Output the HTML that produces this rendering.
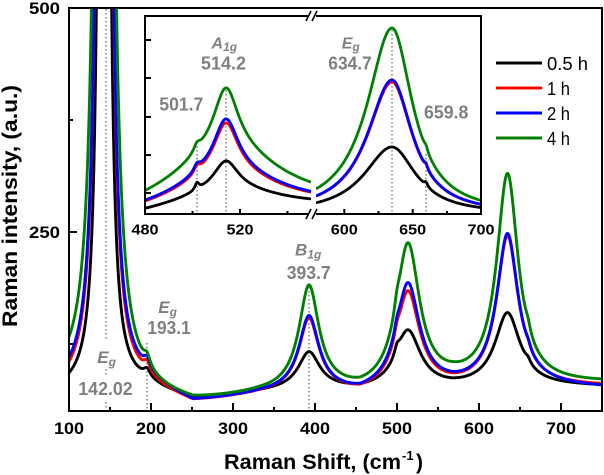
<!DOCTYPE html>
<html><head><meta charset="utf-8">
<style>
html,body{margin:0;padding:0;background:#fff;}
svg{display:block;}
text{font-family:"Liberation Sans",Arial,sans-serif;}
</style></head><body>
<svg id="s" width="604" height="475" viewBox="0 0 604 475" xmlns="http://www.w3.org/2000/svg">
<defs>
<clipPath id="cm"><rect x="70" y="9" width="531" height="401"/></clipPath>
<clipPath id="cl"><rect x="146" y="17" width="165" height="196"/></clipPath>
<clipPath id="cr"><rect x="316" y="17" width="164" height="196"/></clipPath>
</defs>
<rect x="0" y="0" width="604" height="475" fill="#fff"/>

<g stroke="#808080" stroke-width="1.5" stroke-dasharray="1.5 2.5" fill="none">
 <line x1="106" y1="9" x2="106" y2="340"/>
 <line x1="106" y1="369" x2="106" y2="377"/>
 <line x1="106" y1="402" x2="106" y2="410"/>
 <line x1="147" y1="343" x2="147" y2="410"/>
 <line x1="309" y1="287" x2="309" y2="410"/>
</g>

<g id="main" clip-path="url(#cm)" fill="none" stroke-width="2.9" stroke-linejoin="round" stroke-linecap="round"></g>

<rect x="69" y="8" width="533" height="403" fill="none" stroke="#000" stroke-width="2"/>
<g stroke="#000" stroke-width="2">
 <line x1="151" y1="411" x2="151" y2="403"/>
 <line x1="233" y1="411" x2="233" y2="403"/>
 <line x1="315" y1="411" x2="315" y2="403"/>
 <line x1="397" y1="411" x2="397" y2="403"/>
 <line x1="479" y1="411" x2="479" y2="403"/>
 <line x1="561" y1="411" x2="561" y2="403"/>
 <line x1="110" y1="411" x2="110" y2="407"/>
 <line x1="192" y1="411" x2="192" y2="407"/>
 <line x1="274" y1="411" x2="274" y2="407"/>
 <line x1="356" y1="411" x2="356" y2="407"/>
 <line x1="438" y1="411" x2="438" y2="407"/>
 <line x1="520" y1="411" x2="520" y2="407"/>
 <line x1="69" y1="232" x2="77" y2="232"/>
 <line x1="69" y1="120" x2="73" y2="120"/>
 <line x1="69" y1="344" x2="73" y2="344"/>
</g>

<g font-size="16.5" font-weight="bold" fill="#000" text-anchor="middle">
 <text x="69" y="434" textLength="30" lengthAdjust="spacingAndGlyphs">100</text>
 <text x="151" y="434" textLength="30" lengthAdjust="spacingAndGlyphs">200</text>
 <text x="233" y="434" textLength="30" lengthAdjust="spacingAndGlyphs">300</text>
 <text x="315" y="434" textLength="30" lengthAdjust="spacingAndGlyphs">400</text>
 <text x="397" y="434" textLength="30" lengthAdjust="spacingAndGlyphs">500</text>
 <text x="479" y="434" textLength="30" lengthAdjust="spacingAndGlyphs">600</text>
 <text x="561" y="434" textLength="30" lengthAdjust="spacingAndGlyphs">700</text>
</g>
<g font-size="16.5" font-weight="bold" fill="#000">
 <text x="29" y="14" textLength="31" lengthAdjust="spacingAndGlyphs">500</text>
 <text x="29" y="238" textLength="31" lengthAdjust="spacingAndGlyphs">250</text>
</g>

<text font-size="21" font-weight="bold" text-anchor="middle" transform="translate(17,206) rotate(-90)" textLength="242" lengthAdjust="spacingAndGlyphs">Raman intensity, (a.u.)</text>
<text x="224" y="469" font-size="21" font-weight="bold" textLength="177" lengthAdjust="spacingAndGlyphs">Raman Shift, (cm</text>
<text x="402" y="460" font-size="13" font-weight="bold">-1</text>
<text x="416" y="469" font-size="21" font-weight="bold">)</text>

<g fill="#808080" font-weight="bold">
 <text x="295" y="255.5" font-size="17" font-style="italic">B<tspan font-size="12" dy="3">1g</tspan></text>
 <text x="286.7" y="279" font-size="18" textLength="44" lengthAdjust="spacingAndGlyphs">393.7</text>
 <text x="158.3" y="313" font-size="17" font-style="italic">E<tspan font-size="12" dy="3">g</tspan></text>
 <text x="147.3" y="334" font-size="18" textLength="43.4" lengthAdjust="spacingAndGlyphs">193.1</text>
 <text x="97.3" y="363" font-size="17" font-style="italic">E<tspan font-size="12" dy="3">g</tspan></text>
 <text x="78.3" y="395" font-size="18" textLength="54.4" lengthAdjust="spacingAndGlyphs">142.02</text>
</g>

<rect x="145" y="16" width="336" height="198" fill="#fff" stroke="none"/>
<g stroke="#808080" stroke-width="1.5" stroke-dasharray="1.5 2.5" fill="none">
 <line x1="197" y1="142" x2="197" y2="213"/>
 <line x1="226" y1="90" x2="226" y2="213"/>
 <line x1="392" y1="30" x2="392" y2="213"/>
 <line x1="426" y1="154" x2="426" y2="213"/>
</g>
<g id="insL" clip-path="url(#cl)" fill="none" stroke-width="2.8" stroke-linejoin="round" stroke-linecap="round"></g>
<g id="insR" clip-path="url(#cr)" fill="none" stroke-width="2.8" stroke-linejoin="round" stroke-linecap="round"></g>
<rect x="145" y="16" width="336" height="198" fill="none" stroke="#000" stroke-width="2"/>
<g stroke="#000" stroke-width="2">
 <line x1="145" y1="40" x2="151" y2="40"/>
 <line x1="145" y1="78" x2="151" y2="78"/>
 <line x1="145" y1="117" x2="151" y2="117"/>
 <line x1="145" y1="155" x2="151" y2="155"/>
 <line x1="145" y1="193" x2="151" y2="193"/>
 <line x1="240" y1="214" x2="240" y2="209"/>
 <line x1="344.3" y1="214" x2="344.3" y2="209"/>
 <line x1="412.7" y1="214" x2="412.7" y2="209"/>
 <line x1="192.5" y1="214" x2="192.5" y2="211"/>
 <line x1="287.5" y1="214" x2="287.5" y2="211"/>
 <line x1="378.5" y1="214" x2="378.5" y2="211"/>
 <line x1="447" y1="214" x2="447" y2="211"/>
</g>
<rect x="309" y="12" width="7" height="8" fill="#fff"/>
<rect x="309" y="210" width="7" height="8" fill="#fff"/>
<g stroke="#000" stroke-width="1.6">
 <line x1="306" y1="21" x2="311" y2="11"/>
 <line x1="312" y1="21" x2="317" y2="11"/>
 <line x1="306" y1="219" x2="311" y2="209"/>
 <line x1="312" y1="219" x2="317" y2="209"/>
</g>
<g font-size="15" font-weight="bold" fill="#000" text-anchor="middle">
 <text x="145" y="234.5" textLength="27" lengthAdjust="spacingAndGlyphs">480</text>
 <text x="240" y="234.5" textLength="27" lengthAdjust="spacingAndGlyphs">520</text>
 <text x="344.3" y="234.5" textLength="27" lengthAdjust="spacingAndGlyphs">600</text>
 <text x="412.7" y="234.5" textLength="27" lengthAdjust="spacingAndGlyphs">650</text>
 <text x="481" y="234.5" textLength="27" lengthAdjust="spacingAndGlyphs">700</text>
</g>
<g fill="#808080" font-weight="bold">
 <text x="211.5" y="48.3" font-size="16" font-style="italic">A<tspan font-size="12" dy="2.5">1g</tspan></text>
 <text x="201" y="69.3" font-size="18" textLength="45" lengthAdjust="spacingAndGlyphs">514.2</text>
 <text x="341.7" y="48.3" font-size="16" font-style="italic">E<tspan font-size="12" dy="2.5">g</tspan></text>
 <text x="328.3" y="69.3" font-size="18" textLength="43.4" lengthAdjust="spacingAndGlyphs">634.7</text>
 <text x="159.3" y="110.7" font-size="18" textLength="44" lengthAdjust="spacingAndGlyphs">501.7</text>
 <text x="424" y="118.3" font-size="18" textLength="44.3" lengthAdjust="spacingAndGlyphs">659.8</text>
</g>

<g stroke-width="3">
 <line x1="496" y1="63" x2="542" y2="63" stroke="#000"/>
 <line x1="496" y1="88" x2="542" y2="88" stroke="#f00"/>
 <line x1="496" y1="113" x2="542" y2="113" stroke="#00f"/>
 <line x1="496" y1="138" x2="542" y2="138" stroke="#008000"/>
</g>
<g font-size="18" fill="#000">
 <text x="547" y="70" textLength="41" lengthAdjust="spacingAndGlyphs">0.5 h</text>
 <text x="547" y="95" textLength="23" lengthAdjust="spacingAndGlyphs">1 h</text>
 <text x="547" y="120" textLength="23" lengthAdjust="spacingAndGlyphs">2 h</text>
 <text x="547" y="145" textLength="23" lengthAdjust="spacingAndGlyphs">4 h</text>
</g>
</svg>
<script>
(function(){
const NS="http://www.w3.org/2000/svg";
function lor(x,c,A,w){const d=(x-c)/w;return A/(1+d*d);}
function lin(p,x){if(x<=p[0][0])return p[0][1];for(let i=1;i<p.length;i++){if(x<=p[i][0]){const t=(x-p[i-1][0])/(p[i][0]-p[i-1][0]);return p[i-1][1]+(p[i][1]-p[i-1][1])*t;}}return p[p.length-1][1];}
function addPath(g,d,col){const e=document.createElementNS(NS,"path");e.setAttribute("d",d);e.setAttribute("stroke",col);g.appendChild(e);}
const M=[
 {col:"#000",B:[[69,392.6],[147,388],[193,401],[260,393.3],[309,388.8],[360,391.7],[408,388.8],[453,389],[507,386.2],[602,386.8]],
  pk:[[104,6000,2],[147,7,4],[309,35,13],[397,8,3],[408,56,15],[507.5,72,15],[528,4,3]]},
 {col:"#f00",B:[[69,393],[147,390],[193,405],[260,396],[309,391],[360,397],[408,390],[453,390],[507,387],[602,387]],
  pk:[[104,9500,2],[147,9,4],[309,70,12],[397,8,3],[408,95,14],[507.5,149,13],[528,4,3]]},
 {col:"#00f",B:[[69,390],[147,387],[193,405],[260,395.7],[309,391],[360,396.8],[408,389],[453,389.4],[507,386],[602,388.5]],
  pk:[[104,10000,2],[147,9,4],[309,72,12],[397,8,3],[408,102,14],[507.5,150,13],[528,4,3]]},
 {col:"#008000",B:[[69,388],[147,396.5],[193,405],[260,396],[277,394.4],[309,390],[360,396],[408,391],[453,386.6],[507,387],[602,384]],
  pk:[[104,15500,2],[147,10,4],[309,100,12],[397,10,3],[408,142,14],[507.5,210,13],[528,6,3]]}
];
const gm=document.getElementById("main");
M.forEach(c=>{
  let d="";let first=true;
  for(let x=69;x<=602.001;){
    let y=lin(c.B,x);
    c.pk.forEach(p=>{y-=lor(x,p[0],p[1],p[2]);});
    if(y<-30)y=-30;
    d+=(first?"M":"L")+x.toFixed(2)+" "+y.toFixed(2);first=false;
    x+= (x>84&&x<126)?0.1:0.5;
  }
  addPath(gm,d,c.col);
});
const L=[{col:"#000",A1:29,A2:25,sh:7,shw:2.5},{col:"#f00",A1:52,A2:40,sh:7,shw:4},{col:"#00f",A1:54,A2:42,sh:7,shw:4},{col:"#008000",A1:63,A2:64,sh:7,shw:4}];
const R=[{col:"#000",A:67,wl:34,wr:29},{col:"#f00",A:132,wl:30,wr:25},{col:"#00f",A:134,wl:30,wr:25},{col:"#008000",A:186,wl:30,wr:25}];
const gl=document.getElementById("insL"),gr=document.getElementById("insR");
L.forEach(p=>{
  let d="";let first=true;
  for(let x=146;x<=310.001;x+=0.5){
    let y=215+(226-x)*0.06-lor(x,226,p.A1,15)-lor(x,226,p.A2,70)-lor(x,197,p.sh,p.shw);
    d+=(first?"M":"L")+x.toFixed(2)+" "+y.toFixed(2);first=false;
  }
  addPath(gl,d,p.col);
});
R.forEach(p=>{
  let d="";let first=true;
  for(let x=317;x<=481.001;x+=0.5){
    let y=214-(x<392?lor(x,392,p.A,p.wl):lor(x,392,p.A,p.wr))-lor(x,426,4,2);
    d+=(first?"M":"L")+x.toFixed(2)+" "+y.toFixed(2);first=false;
  }
  addPath(gr,d,p.col);
});
})();
</script>
</body></html>
